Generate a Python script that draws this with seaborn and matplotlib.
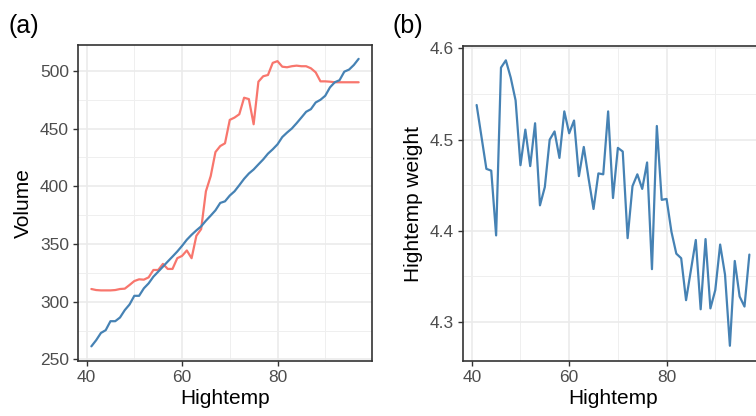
import numpy as np
import pandas as pd
import matplotlib
matplotlib.use("Agg")
import matplotlib.pyplot as plt
from matplotlib.ticker import FixedLocator
import seaborn as sns

hightemp = list(range(41, 98))

volume_blue = [261.3, 266.6, 272.9, 275.3, 283.1, 283.1, 286.3, 292.7, 297.6, 305.1,
               305.1, 311.6, 315.9, 321.7, 326.0, 330.4, 334.8, 339.1, 343.5, 348.4,
               353.7, 358.0, 361.8, 365.3, 370.2, 374.6, 379.2, 385.6, 387.0, 392.0,
               395.7, 401.0, 406.5, 411.1, 414.6, 419.0, 423.3, 428.3, 432.1, 436.4,
               442.7, 446.6, 450.1, 454.7, 459.6, 464.6, 466.9, 472.7, 475.0, 478.5,
               485.8, 490.2, 492.0, 499.4, 501.2, 505.2, 510.5]

volume_red = [311.0, 310.1, 309.8, 309.8, 309.8, 310.1, 311.0, 311.3, 314.5, 317.9,
              319.4, 319.1, 321.1, 327.5, 327.5, 332.8, 328.4, 328.4, 337.7, 339.7,
              344.4, 337.7, 357.1, 362.9, 395.7, 408.8, 429.7, 434.9, 437.3, 457.6,
              459.6, 462.5, 476.8, 475.6, 453.8, 490.7, 495.4, 496.5, 507.0, 508.5,
              503.7, 503.2, 504.1, 504.6, 504.1, 504.1, 502.3, 498.8, 491.0, 491.0,
              490.7, 490.2, 490.2, 490.2, 490.2, 490.2, 490.2]

weight = [4.538, 4.503, 4.468, 4.466, 4.395, 4.579, 4.587, 4.568, 4.543, 4.472,
          4.511, 4.471, 4.518, 4.428, 4.448, 4.500, 4.509, 4.480, 4.531, 4.507,
          4.521, 4.460, 4.492, 4.457, 4.424, 4.463, 4.462, 4.531, 4.436, 4.491,
          4.487, 4.392, 4.449, 4.462, 4.446, 4.475, 4.358, 4.515, 4.434, 4.435,
          4.399, 4.375, 4.370, 4.324, 4.357, 4.390, 4.314, 4.391, 4.315, 4.335,
          4.385, 4.352, 4.274, 4.367, 4.328, 4.317, 4.374]

panel_labels = ["(a)", "(b)"]
xlab = "Hightemp"
ylab_a = "Volume"
ylab_b = "Hightemp weight"

RED = "#F8766D"
BLUE = "#4682B4"

sns.set_style("white")
plt.rcParams["font.family"] = ["Liberation Sans", "DejaVu Sans"]

df_a = pd.DataFrame({"Hightemp": hightemp * 2,
                     "Volume": volume_red + volume_blue,
                     "series": ["red"] * len(hightemp) + ["blue"] * len(hightemp)})
df_b = pd.DataFrame({"Hightemp": hightemp, "weight": weight})

fig = plt.figure(figsize=(7.56, 4.16), dpi=100)
ax1 = fig.add_axes([78 / 756, 55 / 416, 294 / 756, 316 / 416])
ax2 = fig.add_axes([463 / 756, 55 / 416, 300 / 756, 315 / 416])

sns.lineplot(data=df_a, x="Hightemp", y="Volume", hue="series",
             palette={"red": RED, "blue": BLUE}, ax=ax1, lw=1.6, legend=False)
sns.lineplot(data=df_b, x="Hightemp", y="weight", color=BLUE, ax=ax2, lw=1.6)

def style(ax, ylim, ymaj, ymin, ylabel):
    ax.set_xlim(38.2, 99.8)
    ax.set_ylim(*ylim)
    ax.xaxis.set_major_locator(FixedLocator([40, 60, 80]))
    ax.xaxis.set_minor_locator(FixedLocator([50, 70, 90]))
    ax.yaxis.set_major_locator(FixedLocator(ymaj))
    ax.yaxis.set_minor_locator(FixedLocator(ymin))
    ax.grid(which="major", color="#EBEBEB", lw=1.2)
    ax.grid(which="minor", color="#EFEFEF", lw=0.7)
    ax.set_axisbelow(True)
    for s in ax.spines.values():
        s.set_color("#333333")
        s.set_linewidth(1.2)
    ax.tick_params(which="major", direction="out", length=3.5, width=1.0,
                   color="#333333", labelcolor="#4D4D4D", labelsize=12.5, pad=3,
                   bottom=True, left=True)
    ax.tick_params(which="minor", length=0)
    ax.set_xlabel(xlab, fontsize=15, color="black", labelpad=3)
    ax.set_ylabel(ylabel, fontsize=15, color="black", labelpad=5)

style(ax1, (248.6, 522.5), [250, 300, 350, 400, 450, 500],
      [275, 325, 375, 425, 475], ylab_a)
ax2_labels = [4.3, 4.4, 4.5, 4.6]
style(ax2, (4.2573, 4.6027), ax2_labels, [4.35, 4.45, 4.55], ylab_b)
ax2.set_yticklabels([f"{v:.1f}" for v in ax2_labels])

fig.text(8 / 756, 1 - 33 / 416, panel_labels[0], fontsize=18, color="black")
fig.text(392 / 756, 1 - 33 / 416, panel_labels[1], fontsize=18, color="black")

fig.savefig("out.png", dpi=100)
